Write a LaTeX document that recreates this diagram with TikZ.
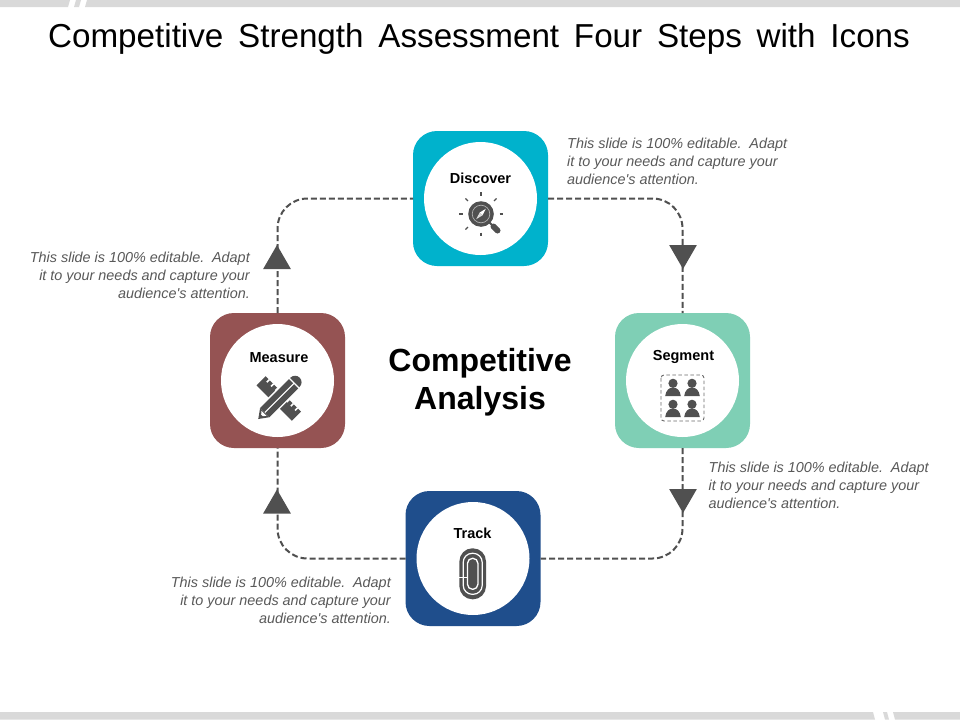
\documentclass[tikz,border=0pt]{standalone}
\usepackage{fontspec}
\setmainfont{Liberation Sans}[Ligatures=TeXOff]
\usetikzlibrary{shapes.geometric}
\definecolor{dk}{HTML}{505050}
\definecolor{bandc}{HTML}{D9D9D9}
\definecolor{cteal}{HTML}{00B2CC}
\definecolor{cmint}{HTML}{7FCFB5}
\definecolor{cbrick}{HTML}{955353}
\definecolor{cnavy}{HTML}{1F4E8C}
\definecolor{txtg}{HTML}{595959}
\newcommand{\notetext}{This slide is 100\% editable.\, Adapt\\it to your needs and capture your\\audience's attention.}
\tikzset{x=1pt,y=-1pt,
 stepbox/.style={minimum size=135pt,rounded corners=24pt,inner sep=0pt,outer sep=0pt},
 disc/.style={circle,fill=white,minimum size=113pt,inner sep=0pt},
 steplabel/.style={font=\fontsize{14.5}{16}\selectfont\bfseries,text=black,inner sep=0pt,anchor=base},
 note/.style={font=\fontsize{14.4}{18}\selectfont\itshape,text=txtg,inner sep=0pt,align=left,anchor=north west},
 noter/.style={note,align=right,anchor=north east},
 link/.style={draw=dk,line width=2pt,dash pattern=on 6pt off 3pt,rounded corners=30pt},
 tri/.style={regular polygon,regular polygon sides=3,fill=dk,inner sep=0pt,minimum size=32pt}}
\begin{document}
\begin{tikzpicture}
\useasboundingbox (0,0) rectangle (960,720);
\fill[white] (0,0) rectangle (960,720);
% bands
\fill[bandc] (0,0) -- (70,0) -- (68,7) -- (0,7) -- cycle;
\fill[bandc] (76,0) -- (81,0) -- (79,7) -- (74,7) -- cycle;
\fill[bandc] (87,0) -- (960,0) -- (960,7) -- (85,7) -- cycle;
\fill[bandc] (0,712) -- (873,712) -- (875,719.5) -- (0,719.5) -- cycle;
\fill[bandc] (883,712) -- (887,712) -- (889,719.5) -- (885,719.5) -- cycle;
\fill[bandc] (893,712) -- (960,712) -- (960,719.5) -- (895,719.5) -- cycle;
\node[font=\fontsize{33.2}{38}\selectfont,text=black,inner sep=0pt] (title) at (479,39) {Competitive\, Strength\, Assessment\, Four\, Steps\, with\, Icons};
% boxes
\node[stepbox,fill=cteal] (discover) at (480.5,198.5) {};
\node[stepbox,fill=cmint] (segment) at (682.5,380.5) {};
\node[stepbox,fill=cnavy] (track) at (473,558.5) {};
\node[stepbox,fill=cbrick] (measure) at (277.5,380.5) {};
\node[disc] (d1) at (discover) {};
\node[disc] (d2) at (segment) {};
\node[disc] (d3) at (track) {};
\node[disc] (d4) at (measure) {};
% connectors
\draw[link] (discover.east) -| (segment.north);
\draw[link] (segment.south) |- (track.east);
\draw[link] (track.west) -| (measure.south);
\draw[link] (measure.north) |- (discover.west);
\node[tri,shape border rotate=180] (t1) at (683,253) {};
\node[tri,shape border rotate=180] (t2) at (683,497) {};
\node[tri] (t3) at (277,505.5) {};
\node[tri] (t4) at (277,261) {};
% labels
\node[steplabel] (l1) at (480.5,183) {Discover};
\node[steplabel] (l2) at (683.5,360) {Segment};
\node[steplabel] (l3) at (472.5,538) {Track};
\node[steplabel] (l4) at (279,362) {Measure};
\node[font=\fontsize{32}{38}\selectfont\bfseries,text=black,align=center,inner sep=0pt] (center) at (480,382) {Competitive\\Analysis};
% notes
\node[note] (n1) at (567,137.7) {\notetext};
\node[note] (n2) at (708.5,461.6) {\notetext};
\node[noter] (n3) at (391,576.6) {\notetext};
\node[noter] (n4) at (250,251.6) {\notetext};
% discover icon
\begin{scope}[shift={(481,214)}]
 \fill[dk] (0,0) circle (12.8);
 \draw[white!55!dk,line width=0.7pt] (0,0) circle (8.8);
 \fill[white] (4.8,-5.2) -- (1.4,1.4) -- (-1.4,-1.4) -- cycle;
 \fill[white!85!black] (-4.8,5.2) -- (1.4,1.4) -- (-1.4,-1.4) -- cycle;
 \draw[dk,line width=6pt,line cap=round] (12.5,12.5) -- (16.5,16.5);
 \draw[dk,line width=2pt] (8.5,8.5) -- (13,13);
 \foreach \a in {0,45,...,315}{
  \ifnum\a=45\relax\else
  \draw[dk,line width=1.2pt] (\a:18.5) -- (\a:22);
  \fi}
\end{scope}
% measure icon
\begin{scope}[shift={(278.8,398.5)}]
 \begin{scope}[rotate=-45]
  \fill[dk] (-25,-6.5) rectangle (25,6.5);
  \foreach \p in {-20,-14,-8,8,14,20} \fill[white] (\p-0.8,-6.7) rectangle (\p+0.8,-3);
 \end{scope}
 \begin{scope}[rotate=45]
  \fill[white] (-30,-8) rectangle (30,8);
  \fill[dk] (-20,-6.5) rectangle (21,-0.7);
  \fill[dk] (-20,0.7) rectangle (21,6.5);
  \fill[dk] (-20,-6.5) -- (-29,0) -- (-20,6.5) -- cycle;
  \fill[white] (-21,-3.6) -- (-25,0) -- (-21,3.6) -- cycle;
  \fill[dk] (-24,-1.4) -- (-29,0) -- (-24,1.4) -- cycle;
  \fill[dk] (22.5,-6.5) -- (23,-6.5) arc (-90:90:6.5) -- (22.5,6.5) -- cycle;
 \end{scope}
\end{scope}
% segment icon
\begin{scope}[shift={(682.5,398)}]
 \draw[dk!85,line width=0.9pt,dash pattern=on 3.5pt off 2.5pt,rounded corners=3pt] (-21.5,-23) rectangle (21.5,23);
 \foreach \px/\py in {-9.5/-14.7,9.5/-14.7,-9.5/6.3,9.5/6.3}{
  \fill[dk] (\px,\py) circle (4.6);
  \fill[dk] (\px-7.8,\py+12.7) .. controls (\px-7,\py+7) and (\px-4,\py+4.2) .. (\px,\py+4.2) .. controls (\px+4,\py+4.2) and (\px+7,\py+7) .. (\px+7.8,\py+12.7) -- cycle;
 }
\end{scope}
% track icon
\begin{scope}[shift={(472.7,573.8)}]
 \fill[dk,rounded corners=13pt] (-13.3,-25.5) rectangle (13.3,25.5);
 \draw[white,line width=1.2pt,rounded corners=9pt] (-9.5,3.5) -- (-9.5,-20.5) -- (9.5,-20.5) -- (9.5,20.5) -- (-9.5,20.5) -- (-9.5,3.5);
 \draw[white,line width=1.3pt,rounded corners=5pt] (-5.2,3.5) -- (-5.2,-15.5) -- (5.2,-15.5) -- (5.2,15.5) -- (-5.2,15.5) -- (-5.2,3.5);
 \fill[white] (-14,3) rectangle (-5,4.2);
\end{scope}
\end{tikzpicture}
\end{document}
